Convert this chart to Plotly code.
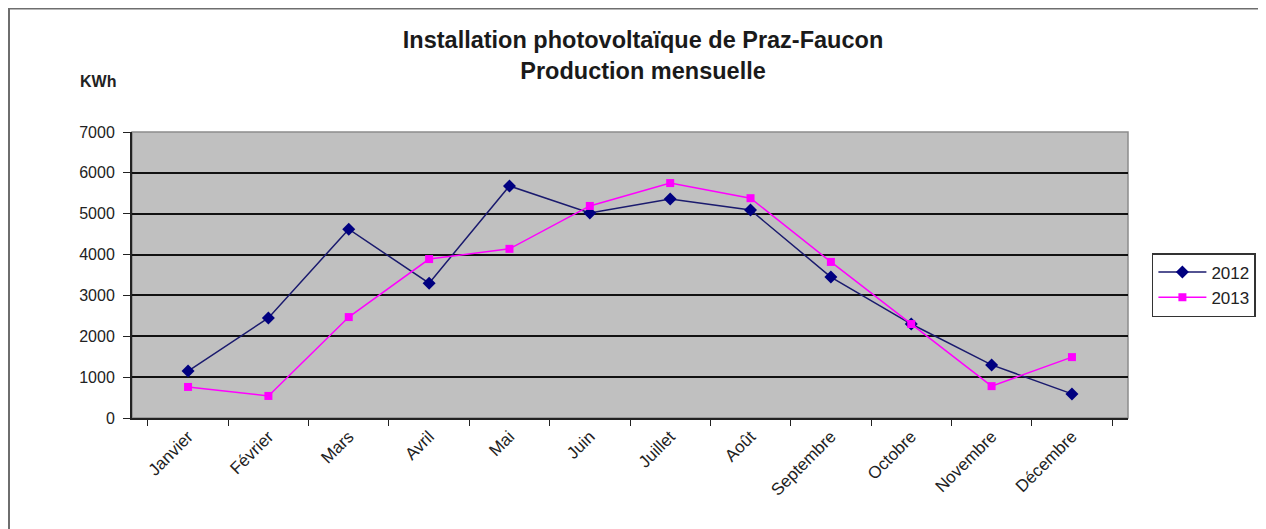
import plotly.graph_objects as go

# Monthly production (kWh)
months = ["Janvier", "Février", "Mars", "Avril", "Mai", "Juin", "Juillet",
          "Août", "Septembre", "Octobre", "Novembre", "Décembre"]
prod_2012 = [1150, 2450, 4620, 3300, 5680, 5020, 5360, 5090, 3450, 2300, 1300, 590]
prod_2013 = [760, 540, 2470, 3890, 4140, 5190, 5750, 5380, 3820, 2300, 780, 1490]
y_ticks = [0, 1000, 2000, 3000, 4000, 5000, 6000, 7000]

font_name = "Liberation Sans, Arial, sans-serif"

fig = go.Figure()

# 2012 series: navy line with diamonds
fig.add_trace(go.Scatter(
    x=months, y=prod_2012, name="2012",
    mode="lines+markers",
    line=dict(color="#1a1a6e", width=1.5),
    marker=dict(symbol="diamond", size=10, color="#000080"),
))

# 2013 series: magenta line with squares
fig.add_trace(go.Scatter(
    x=months, y=prod_2013, name="2013",
    mode="lines+markers",
    line=dict(color="#ff00ff", width=1.5),
    marker=dict(symbol="square", size=8, color="#ff00ff"),
))

fig.update_layout(
    width=1266, height=529,
    margin=dict(l=124, r=146, t=124, b=119),
    paper_bgcolor="white",
    plot_bgcolor="#c0c0c0",
    font=dict(family=font_name, size=16, color="#222222"),
    title=dict(
        text="<b>Installation photovoltaïque de Praz-Faucon<br>Production mensuelle</b>",
        xref="container", x=0.5016, xanchor="center",
        yref="container", y=0.924, yanchor="top",
        font=dict(family=font_name, size=23.5, color="#1a1a1a"),
    ),
    showlegend=True,
    legend=dict(
        x=1.024, xanchor="left", y=0.465, yanchor="middle",
        bordercolor="#333333", borderwidth=1.5, bgcolor="white",
        font=dict(size=17, color="#222222"),
        itemwidth=48,
        tracegroupgap=0,
    ),
    annotations=[dict(
        text="<b>KWh</b>", xref="paper", yref="paper",
        x=-0.034, y=1.178, xanchor="center", yanchor="middle",
        showarrow=False, font=dict(family=font_name, size=16, color="#222222"),
    )],
    shapes=[
        # frame around the whole chart
        dict(type="rect", xref="paper", yref="paper",
             x0=-0.1235, x1=1.1376, y0=-0.5, y1=1.432,
             line=dict(color="#6e6e6e", width=2)),
        # grey plot-area border on top and right
        dict(type="rect", xref="paper", yref="paper", x0=0, x1=1, y0=0, y1=1,
             line=dict(color="#8c8c8c", width=1.5), layer="below"),
    ],
)

fig.update_xaxes(
    type="category",
    tickson="boundaries",
    ticks="outside", ticklen=6, tickcolor="#222222",
    tickangle=-45,
    showline=True, linecolor="#222222", linewidth=2,
    showgrid=False,
    tickfont=dict(size=17),
)

fig.update_yaxes(
    range=[0, 7000],
    tickvals=y_ticks,
    ticks="outside", ticklen=7, tickcolor="#222222",
    ticklabelstandoff=5,
    showline=True, linecolor="#222222", linewidth=2,
    showgrid=True, gridcolor="#111111", gridwidth=1.5,
    zeroline=False,
    tickfont=dict(size=16),
)

fig.write_html("out.html")
